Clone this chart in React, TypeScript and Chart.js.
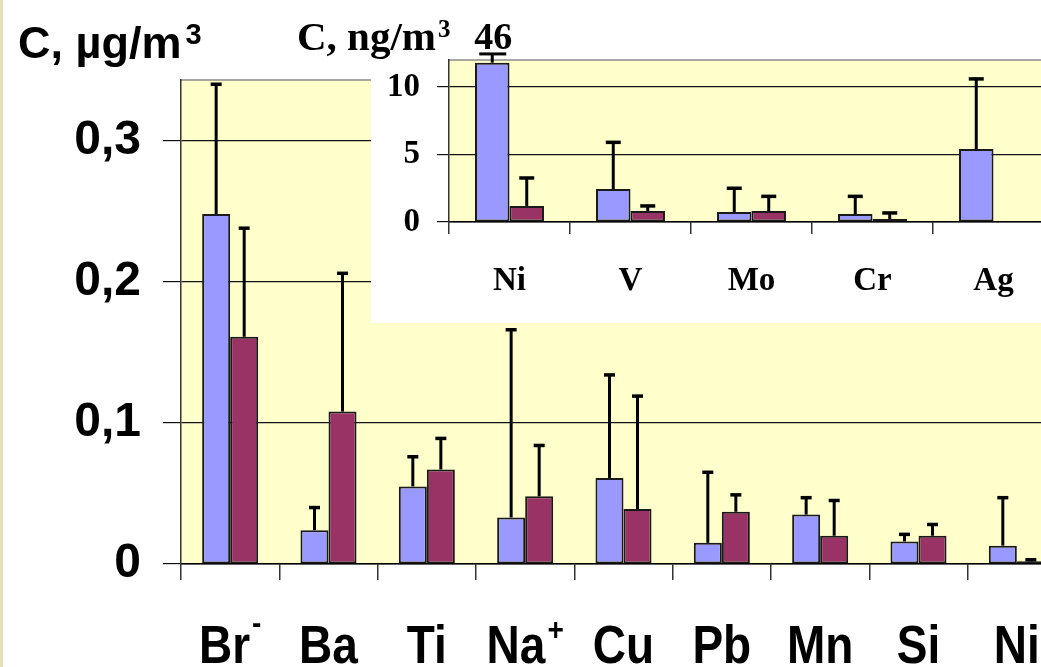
import React, { useEffect, useRef } from 'react';
import { Chart, registerables } from 'chart.js';

Chart.register(...registerables);

// ---------- main chart data (µg/m3) ----------
const mainCategories = ['Br', 'Ba', 'Ti', 'Na', 'Cu', 'Pb', 'Mn', 'Si', 'Ni'];
const mainSuperscripts = ['-', '', '', '+', '', '', '', '', ''];
const mainBlue = [0.248, 0.024, 0.055, 0.033, 0.061, 0.015, 0.035, 0.016, 0.013];
const mainBlueTop = [0.340, 0.040, 0.076, 0.166, 0.134, 0.065, 0.047, 0.021, 0.047];
const mainMaroon = [0.161, 0.108, 0.067, 0.048, 0.039, 0.037, 0.020, 0.020, 0.002];
const mainMaroonTop = [0.238, 0.206, 0.089, 0.084, 0.119, 0.049, 0.045, 0.028, 0.003];
const mainYTicks = [0, 0.1, 0.2, 0.3];
const mainYTickLabels = ['0', '0,1', '0,2', '0,3'];
const mainTitle = 'C, \u00B5g/m';
const mainTitleSup = '3';

// ---------- inset chart data (ng/m3) ----------
const insetCategories = ['Ni', 'V', 'Mo', 'Cr', 'Ag'];
const insetBlue = [11.8, 2.44, 0.74, 0.59, 5.4];
const insetBlueTop = [12.45, 5.9, 2.5, 1.9, 10.6];
const insetMaroon = [1.19, 0.81, 0.81, 0.22, 0.05];
const insetMaroonTop: (number | null)[] = [3.26, 1.19, 1.9, 0.67, null];
const insetOverflowLabels = ['46', '', '', '', ''];
const insetYTicks = [0, 5, 10];
const insetYTickLabels = ['0', '5', '10'];
const insetTitle = 'C, ng/m';
const insetTitleSup = '3';

const BLUE = '#9999FF';
const MAROON = '#993366';
const PLOT_BG = '#FFFFCC';
const SANS = '"Liberation Sans", Arial, sans-serif';
const SERIF = '"Liberation Serif", "Times New Roman", serif';

function errorBarPlugin(tops: (number | null)[][], capW: number, lw: number, skip?: (di: number, i: number) => boolean) {
  return {
    id: 'errorBars',
    afterDatasetsDraw(chart: any) {
      const ctx = chart.ctx;
      const ys = chart.scales.y;
      tops.forEach((arr, di) => {
        const meta = chart.getDatasetMeta(di);
        meta.data.forEach((el: any, i: number) => {
          const t = arr[i];
          if (t == null) return;
          const x = el.x;
          const y0 = el.y;
          const y1 = ys.getPixelForValue(t);
          ctx.save();
          ctx.strokeStyle = '#000';
          ctx.lineWidth = lw;
          ctx.beginPath();
          ctx.moveTo(x, y0);
          ctx.lineTo(x, y1);
          ctx.stroke();
          if (!(skip && skip(di, i))) {
            ctx.lineWidth = lw + 0.5;
            ctx.beginPath();
            ctx.moveTo(x - capW / 2, y1);
            ctx.lineTo(x + capW / 2, y1);
            ctx.stroke();
          }
          ctx.restore();
        });
      });
    },
  };
}

function MainChart() {
  const ref = useRef<HTMLCanvasElement>(null);
  useEffect(() => {
    if (!ref.current) return;
    const bgPlugin = {
      id: 'bg',
      beforeDraw(chart: any) {
        const { ctx, chartArea: a, width, height } = chart;
        ctx.save();
        ctx.fillStyle = '#fff';
        ctx.fillRect(0, 0, width, height);
        ctx.fillStyle = PLOT_BG;
        ctx.fillRect(a.left, a.top, a.right - a.left, a.bottom - a.top);
        ctx.strokeStyle = '#8a8a8a';
        ctx.lineWidth = 1.5;
        ctx.beginPath();
        ctx.moveTo(a.left, a.top);
        ctx.lineTo(a.right, a.top);
        ctx.stroke();
        ctx.restore();
      },
    };
    const labelPlugin = {
      id: 'labels',
      afterDraw(chart: any) {
        const ctx = chart.ctx;
        const xs = chart.scales.x;
        ctx.save();
        ctx.fillStyle = '#000';
        ctx.textBaseline = 'alphabetic';
        ctx.textAlign = 'left';
        const mainFont = `bold 46px ${SANS}`;
        const supFont = `bold 28px ${SANS}`;
        mainCategories.forEach((lab, i) => {
          const cx = xs.getPixelForValue(i);
          ctx.font = mainFont;
          const w1 = ctx.measureText(lab).width;
          const sup = mainSuperscripts[i];
          ctx.font = supFont;
          const w2 = sup ? ctx.measureText(sup).width + 2 : 0;
          const start = cx - (w1 + w2) / 2;
          ctx.save();
          ctx.translate(0, 663);
          ctx.scale(1, 1.15);
          ctx.font = mainFont;
          ctx.fillText(lab, start, 0);
          if (sup) {
            ctx.font = supFont;
            ctx.fillText(sup, start + w1 + 2, sup === '-' ? -26 : -20);
          }
          ctx.restore();
        });
        // title
        ctx.font = `bold 45px ${SANS}`;
        ctx.fillText(mainTitle, 18, 58);
        const tw = ctx.measureText(mainTitle).width;
        ctx.font = `bold 29px ${SANS}`;
        ctx.fillText(mainTitleSup, 18 + tw + 4, 44);
        ctx.restore();
      },
    };
    const chart = new Chart(ref.current, {
      type: 'bar',
      data: {
        labels: mainCategories,
        datasets: [
          { data: mainBlue, backgroundColor: BLUE, borderColor: '#1a1a1a', borderWidth: 2, borderSkipped: false, categoryPercentage: 0.57, barPercentage: 1 },
          { data: mainMaroon, backgroundColor: MAROON, borderColor: '#1a1a1a', borderWidth: 2, borderSkipped: false, categoryPercentage: 0.57, barPercentage: 1 },
        ],
      },
      options: {
        animation: false,
        responsive: false,
        devicePixelRatio: 1,
        layout: { padding: { top: 80, left: 0, right: 0, bottom: 0 } },
        plugins: { legend: { display: false }, tooltip: { enabled: false } },
        scales: {
          x: {
            type: 'category',
            offset: true,
            grid: { drawOnChartArea: false, drawTicks: true, tickLength: 16, color: '#333', lineWidth: 1.5, offset: true },
            border: { display: true, color: '#000', width: 1.5 },
            ticks: { display: false },
            afterFit: (s: any) => { s.height = 103; },
          },
          y: {
            min: 0,
            max: 0.343,
            afterBuildTicks: (s: any) => { s.ticks = mainYTicks.map((v) => ({ value: v })); },
            ticks: {
              color: '#000',
              padding: 22,
              font: { family: SANS, size: 48, weight: 'bold' },
              callback: (_v: any, i: number) => mainYTickLabels[i],
            },
            grid: { color: '#111', lineWidth: 1.2, drawTicks: true, tickLength: 18, tickColor: '#111' },
            border: { display: true, color: '#333', width: 1.5 },
            afterFit: (s: any) => { s.width = 181; },
          },
        },
      },
      plugins: [bgPlugin, errorBarPlugin([mainBlueTop, mainMaroonTop], 11, 3), labelPlugin],
    } as any);
    return () => chart.destroy();
  }, []);
  return <canvas ref={ref} width={1066} height={667} style={{ position: 'absolute', left: 0, top: 0, width: 1066, height: 667 }} />;
}

function InsetChart() {
  const ref = useRef<HTMLCanvasElement>(null);
  useEffect(() => {
    if (!ref.current) return;
    const BOX_LEFT = 81;
    const bgPlugin = {
      id: 'bgInset',
      beforeDraw(chart: any) {
        const { ctx, chartArea: a, width, height } = chart;
        ctx.save();
        ctx.fillStyle = '#fff';
        ctx.fillRect(BOX_LEFT, 0, width - BOX_LEFT, height);
        ctx.fillStyle = PLOT_BG;
        ctx.fillRect(a.left, a.top, a.right - a.left, a.bottom - a.top);
        ctx.strokeStyle = '#8a8a8a';
        ctx.lineWidth = 1.5;
        ctx.beginPath();
        ctx.moveTo(a.left, a.top);
        ctx.lineTo(a.right, a.top);
        ctx.stroke();
        ctx.restore();
      },
    };
    const labelPlugin = {
      id: 'labelsInset',
      afterDraw(chart: any) {
        const ctx = chart.ctx;
        const xs = chart.scales.x;
        const ys = chart.scales.y;
        ctx.save();
        ctx.fillStyle = '#000';
        ctx.textBaseline = 'alphabetic';
        ctx.textAlign = 'center';
        ctx.font = `bold 33px ${SERIF}`;
        insetCategories.forEach((lab, i) => {
          ctx.fillText(lab, xs.getPixelForValue(i), 290);
        });
        // overflow labels above clipped bars
        const meta = chart.getDatasetMeta(0);
        insetOverflowLabels.forEach((lab, i) => {
          if (!lab) return;
          const x = meta.data[i].x;
          const yCap = ys.getPixelForValue(insetBlueTop[i]);
          ctx.font = `bold 38px ${SERIF}`;
          ctx.fillText(lab, x + 1, 49);
          ctx.strokeStyle = '#000';
          ctx.lineWidth = 3;
          ctx.beginPath();
          ctx.moveTo(x - 13, yCap);
          ctx.lineTo(x + 14, yCap);
          ctx.stroke();
        });
        // title
        ctx.textAlign = 'left';
        ctx.font = `bold 41px ${SERIF}`;
        ctx.fillText(insetTitle, 7, 50);
        const tw = ctx.measureText(insetTitle).width;
        ctx.font = `bold 25px ${SERIF}`;
        ctx.fillText(insetTitleSup, 7 + tw + 2, 37);
        ctx.restore();
      },
    };
    const chart = new Chart(ref.current, {
      type: 'bar',
      data: {
        labels: insetCategories,
        datasets: [
          { data: insetBlue, backgroundColor: BLUE, borderColor: '#1a1a1a', borderWidth: 2, borderSkipped: false, categoryPercentage: 0.57, barPercentage: 1 },
          { data: insetMaroon, backgroundColor: MAROON, borderColor: '#1a1a1a', borderWidth: 2, borderSkipped: false, categoryPercentage: 0.57, barPercentage: 1 },
        ],
      },
      options: {
        animation: false,
        responsive: false,
        devicePixelRatio: 1,
        layout: { padding: { top: 60, left: 0, right: 7, bottom: 0 } },
        plugins: { legend: { display: false }, tooltip: { enabled: false } },
        scales: {
          x: {
            type: 'category',
            offset: true,
            grid: { drawOnChartArea: false, drawTicks: true, tickLength: 12, color: '#333', lineWidth: 1.5, offset: true },
            border: { display: true, color: '#000', width: 1.5 },
            ticks: { display: false },
            afterFit: (s: any) => { s.height = 101; },
          },
          y: {
            min: 0,
            max: 12,
            afterBuildTicks: (s: any) => { s.ticks = insetYTicks.map((v) => ({ value: v })); },
            ticks: {
              color: '#000',
              padding: 17,
              font: { family: SERIF, size: 33, weight: 'bold' },
              callback: (_v: any, i: number) => insetYTickLabels[i],
            },
            grid: { color: '#111', lineWidth: 1.2, drawTicks: true, tickLength: 12, tickColor: '#111' },
            border: { display: true, color: '#333', width: 1.5 },
            afterFit: (s: any) => { s.width = 159; },
          },
        },
      },
      plugins: [
        bgPlugin,
        errorBarPlugin([insetBlueTop, insetMaroonTop], 15, 3, (di, i) => di === 0 && !!insetOverflowLabels[i]),
        labelPlugin,
      ],
    } as any);
    return () => chart.destroy();
  }, []);
  return <canvas ref={ref} width={771} height={323} style={{ position: 'absolute', left: 290, top: 0, width: 771, height: 323 }} />;
}

export default function App() {
  return (
    <div style={{ position: 'fixed', left: 0, top: 0, width: 1041, height: 667, overflow: 'hidden', background: '#fff' }}>
      <MainChart />
      <InsetChart />
      <div style={{ position: 'absolute', left: 0, top: 0, width: 3, height: 667, background: '#e4e0bc' }} />
    </div>
  );
}
